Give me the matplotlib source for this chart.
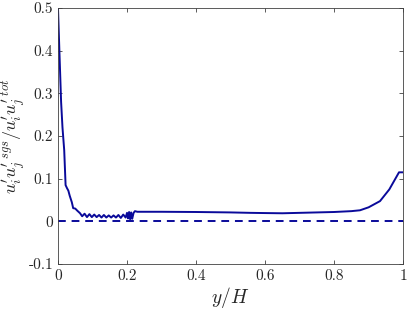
import matplotlib.pyplot as plt

plt.rcParams['font.family'] = 'cmr10'
plt.rcParams['mathtext.fontset'] = 'cm'
plt.rcParams['axes.unicode_minus'] = False

# profile of sgs / total stress ratio
y_H = [0.0, 0.004, 0.009, 0.013, 0.018, 0.022, 0.026, 0.030, 0.034, 0.040,
       0.044, 0.050, 0.056, 0.064,
       0.070, 0.077, 0.084, 0.091, 0.098, 0.105, 0.112, 0.119, 0.126, 0.133,
       0.140, 0.147, 0.154, 0.161, 0.168, 0.175, 0.182, 0.189, 0.196,
       0.200, 0.203, 0.206, 0.209, 0.212, 0.215, 0.219, 0.223, 0.23,
       0.30, 0.40, 0.50, 0.557, 0.60, 0.65, 0.70, 0.75, 0.80, 0.85, 0.875,
       0.90, 0.933, 0.96, 0.988, 1.0]
ratio = [0.50, 0.40, 0.28, 0.22, 0.167, 0.085, 0.078, 0.072, 0.060, 0.045,
         0.031, 0.030, 0.025, 0.019,
         0.012, 0.018, 0.010, 0.017, 0.010, 0.016, 0.010, 0.015, 0.009, 0.015,
         0.009, 0.014, 0.009, 0.014, 0.009, 0.015, 0.008, 0.016, 0.009,
         0.020, 0.007, 0.022, 0.005, 0.021, 0.006, 0.020, 0.024, 0.0225,
         0.0225, 0.022, 0.021, 0.020, 0.0195, 0.019, 0.020, 0.021, 0.022, 0.024, 0.026,
         0.033, 0.0475, 0.075, 0.115, 0.115]
zero_x = [0.0, 1.0]
zero_y = [0.0, 0.0]

col = '#0a0a9a'

fig = plt.figure(figsize=(4.07, 3.11), dpi=100)
ax = fig.add_axes([0.1425, 0.151, 0.848, 0.823])

ax.plot(y_H, ratio, color=col, lw=1.4)
ax.plot(zero_x, zero_y, color=col, lw=1.4, ls=(0, (4, 3)))

ax.set_xlim(0, 1)
ax.set_ylim(-0.1, 0.5)
ax.set_xticks([0, 0.2, 0.4, 0.6, 0.8, 1])
ax.set_xticklabels(['0', '0.2', '0.4', '0.6', '0.8', '1'])
ax.set_yticks([-0.1, 0, 0.1, 0.2, 0.3, 0.4, 0.5])
ax.set_yticklabels(['-0.1', '0', '0.1', '0.2', '0.3', '0.4', '0.5'])
ax.tick_params(direction='in', top=True, right=True, length=3, width=0.6,
               color='#404040', labelsize=11, labelcolor='#262626')
for s in ax.spines.values():
    s.set_color('#404040')
    s.set_linewidth(0.6)

ax.set_xlabel(r'$y/H$', fontsize=14, color='#262626', labelpad=2)
ax.set_ylabel(r"$u_i'u_j'^{\,sgs}/u_i'u_j'^{\,tot}$", fontsize=13,
              color='#262626', labelpad=1)

fig.savefig('out.png', dpi=100)
